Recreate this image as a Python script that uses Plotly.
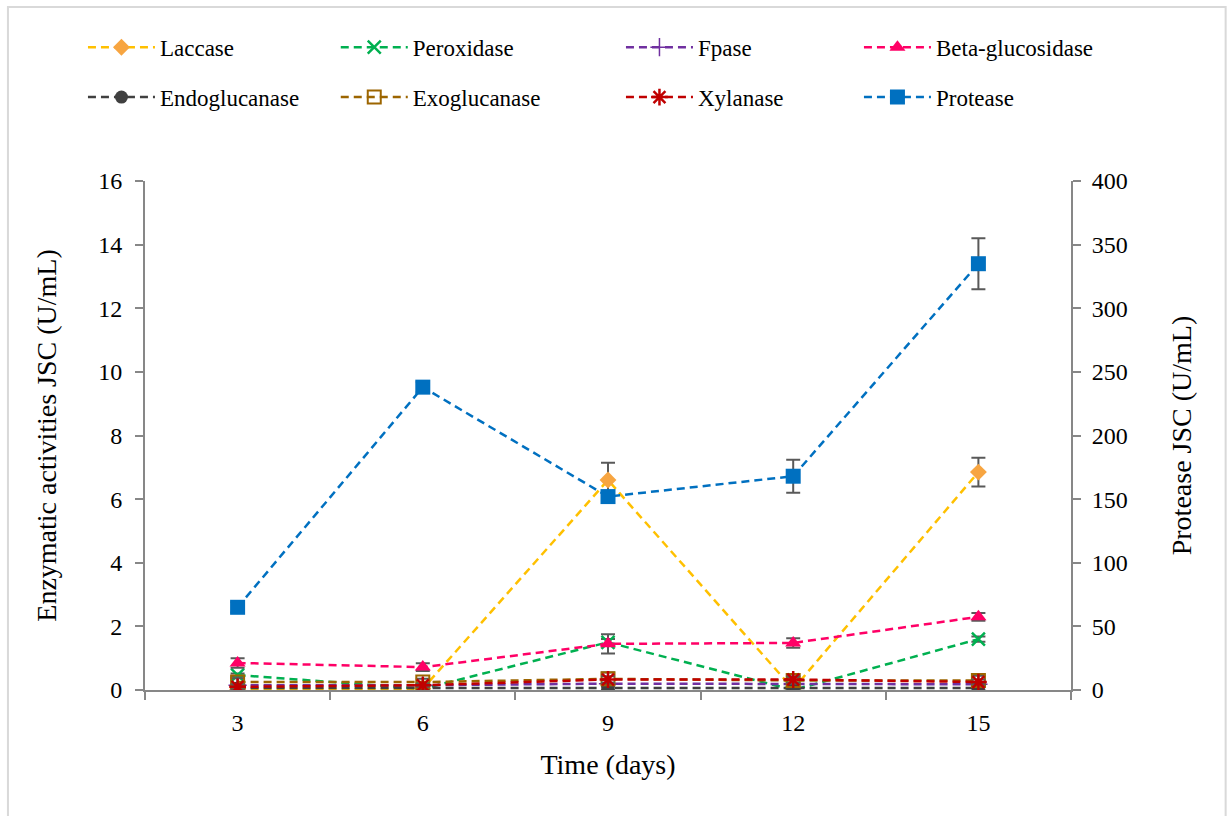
import plotly.graph_objects as go

# Sampling days (categorical axis)
days = ["3", "6", "9", "12", "15"]
pos = list(range(len(days)))

# Enzyme activities (U/mL), left axis
laccase = [0.02, 0.04, 6.6, 0.03, 6.85]
laccase_err = [0.04, 0.03, 0.54, 0.05, 0.45]
peroxidase = [0.47, 0.04, 1.5, 0.0, 1.6]
peroxidase_err = [0.05, 0.03, 0.1, 0.03, 0.08]
fpase = [0.15, 0.15, 0.2, 0.2, 0.18]
fpase_err = [0.03, 0.03, 0.03, 0.03, 0.03]
beta_glucosidase = [0.85, 0.72, 1.45, 1.48, 2.3]
beta_glucosidase_err = [0.15, 0.12, 0.3, 0.15, 0.12]
endoglucanase = [0.06, 0.06, 0.06, 0.06, 0.06]
endoglucanase_err = [0.05, 0.05, 0.05, 0.05, 0.05]
exoglucanase = [0.25, 0.25, 0.35, 0.3, 0.3]
exoglucanase_err = [0.12, 0.1, 0.2, 0.1, 0.15]
xylanase = [0.1, 0.15, 0.33, 0.33, 0.25]
xylanase_err = [0.08, 0.05, 0.1, 0.1, 0.08]

# Protease activity (U/mL), right axis
protease = [65, 238, 152, 168, 335]
protease_err = [4, 4, 4, 13, 20]

left_ticks = [0, 2, 4, 6, 8, 10, 12, 14, 16]
right_ticks = [0, 50, 100, 150, 200, 250, 300, 350, 400]

FONT = "Times New Roman, Liberation Serif, serif"
ERR_COLOR = "#595959"
DASH = "8px,5px"

series = [
    ("Laccase", laccase, laccase_err, "#FFC000", dict(symbol="diamond", size=13, color="#F7A541"), "legend"),
    ("Peroxidase", peroxidase, peroxidase_err, "#00B050", dict(symbol="x-thin-open", size=13, line=dict(color="#00B050", width=2.5)), "legend2"),
    ("Fpase", fpase, fpase_err, "#7030A0", dict(symbol="cross-thin-open", size=13, line=dict(color="#7030A0", width=1.5)), "legend3"),
    ("Beta-glucosidase", beta_glucosidase, beta_glucosidase_err, "#FF0066", dict(symbol="triangle-up", size=14, color="#FF0066"), "legend4"),
    ("Endoglucanase", endoglucanase, endoglucanase_err, "#404040", dict(symbol="circle", size=13, color="#404040"), "legend"),
    ("Exoglucanase", exoglucanase, exoglucanase_err, "#9C6500", dict(symbol="square-open", size=13, line=dict(color="#9C6500", width=2)), "legend2"),
    ("Xylanase", xylanase, xylanase_err, "#C00000", dict(symbol="asterisk-open", size=14, line=dict(color="#C00000", width=2.5)), "legend3"),
]

fig = go.Figure()

for name, vals, errs, color, marker, leg in series:
    fig.add_trace(go.Scatter(
        x=pos, y=vals, name=name, mode="lines+markers",
        line=dict(color=color, width=2.5, dash=DASH),
        marker=marker,
        error_y=dict(type="data", array=errs, visible=True, color=ERR_COLOR, thickness=2, width=7),
        legend=leg, legendgroup=name, yaxis="y",
    ))

fig.add_trace(go.Scatter(
    x=pos, y=protease, name="Protease", mode="lines+markers",
    line=dict(color="#0070C0", width=2.5, dash=DASH),
    marker=dict(symbol="square", size=15, color="#0070C0"),
    error_y=dict(type="data", array=protease_err, visible=True, color=ERR_COLOR, thickness=2, width=7),
    legend="legend4", legendgroup="Protease", yaxis="y2",
))

axis_color = "#878787"
tick_font = dict(family=FONT, size=24, color="#000000")
title_font = dict(family=FONT, size=28, color="#000000")


def legend_box(x):
    return dict(
        x=x, orientation="v", yanchor="top", y=1.305, xanchor="left",
        font=dict(family=FONT, size=23, color="#000000"),
        itemwidth=67, tracegroupgap=17, bgcolor="rgba(0,0,0,0)",
        itemclick=False, itemdoubleclick=False,
    )


fig.update_layout(
    width=1229, height=816,
    font=dict(family=FONT, color="#000000"),
    margin=dict(l=145, r=158, t=181, b=126),
    paper_bgcolor="white", plot_bgcolor="white",
    showlegend=True,
    legend=legend_box(-0.067),
    legend2=legend_box(0.206),
    legend3=legend_box(0.514),
    legend4=legend_box(0.771),
    xaxis=dict(
        range=[-0.5, 4.5], tickmode="array", tickvals=pos, ticktext=days,
        ticks="", showgrid=False, zeroline=False,
        showline=True, linecolor=axis_color, linewidth=2,
        tickfont=tick_font, ticklabelstandoff=10,
        minor=dict(tickmode="array", tickvals=[p - 0.5 for p in pos] + [4.5],
                   ticks="outside", ticklen=8, tickwidth=2, tickcolor=axis_color, showgrid=False),
        title=dict(text="Time (days)", font=title_font, standoff=20),
    ),
    yaxis=dict(
        range=[0, 16], tickmode="array", tickvals=left_ticks,
        ticks="outside", ticklen=8, tickwidth=2, tickcolor=axis_color,
        showgrid=False, zeroline=False, showline=True, linecolor=axis_color, linewidth=2,
        tickfont=tick_font, ticklabelstandoff=8,
        title=dict(text="Enzymatic activities JSC (U/mL)", font=title_font, standoff=33),
    ),
    yaxis2=dict(
        range=[0, 400], overlaying="y", side="right", tickmode="array", tickvals=right_ticks,
        ticks="outside", ticklen=8, tickwidth=2, tickcolor=axis_color,
        showgrid=False, zeroline=False, showline=True, linecolor=axis_color, linewidth=2,
        tickfont=tick_font, ticklabelstandoff=6,
        title=dict(text="Protease JSC (U/mL)", font=title_font, standoff=45),
    ),
    shapes=[dict(type="rect", xref="paper", yref="paper",
                 x0=-0.148, x1=1.167, y0=-0.26, y1=1.342,
                 line=dict(color="#D9D9D9", width=2), fillcolor="rgba(0,0,0,0)", layer="below")],
)

fig.write_html("out.html")
